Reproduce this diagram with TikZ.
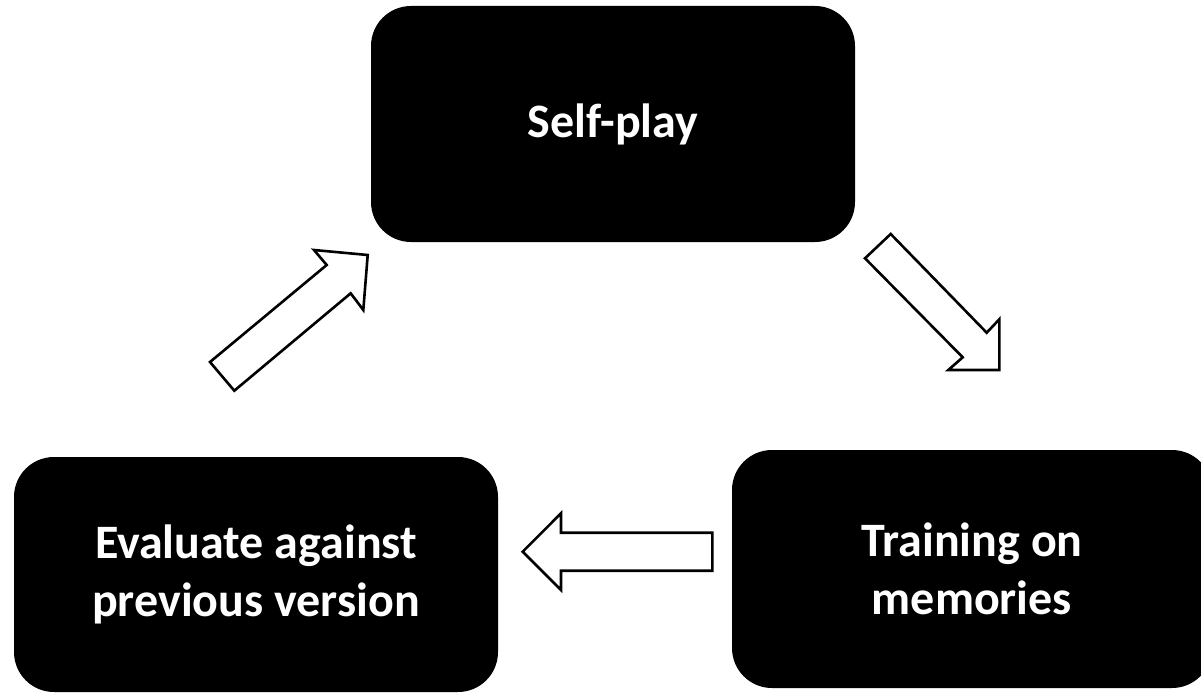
\documentclass[tikz,border=0pt]{standalone}
\usepackage{fontspec}
\setmainfont{Carlito}
\begin{document}
\begin{tikzpicture}[x=1pt,y=-1pt,
  stage/.style={fill=black, draw=none, rounded corners=40pt, inner sep=0pt,
    text=white, align=center, font=\bfseries\fontsize{48}{58}\selectfont},
  blockarrow/.style={draw=black, fill=white, line width=2.6pt, line join=miter}]
  \useasboundingbox (0,0) rectangle (1201,693);
  \clip (0,0) rectangle (1201,693);

  % the three stages of the loop
  \node[stage, minimum width=484pt, minimum height=236pt] (self) at (613,124) {Self-play};
  \node[stage, minimum width=480pt, minimum height=238pt] (train) at (972,569) {Training on\\memories};
  \node[stage, minimum width=484pt, minimum height=235pt] (eval) at (256,574.5) {Evaluate against\\previous version};

  % self-play -> training
  \draw[blockarrow] (890.7,234) -- (986.7,332.7) -- (999.3,319.3) -- (999.3,370)
    -- (948.3,370) -- (962.7,357.3) -- (865,258.3) -- cycle;
  % training -> evaluation
  \draw[blockarrow] (712.3,532.7) -- (561,532.7) -- (561,513.3) -- (522.7,551.7)
    -- (561,590) -- (561,570.7) -- (712.3,570.7) -- cycle;
  % evaluation -> self-play
  \draw[blockarrow] (210,362) -- (326.7,265) -- (314,250) -- (367.7,255)
    -- (363.3,310) -- (350.7,293.3) -- (234.3,390.7) -- cycle;
\end{tikzpicture}
\end{document}
